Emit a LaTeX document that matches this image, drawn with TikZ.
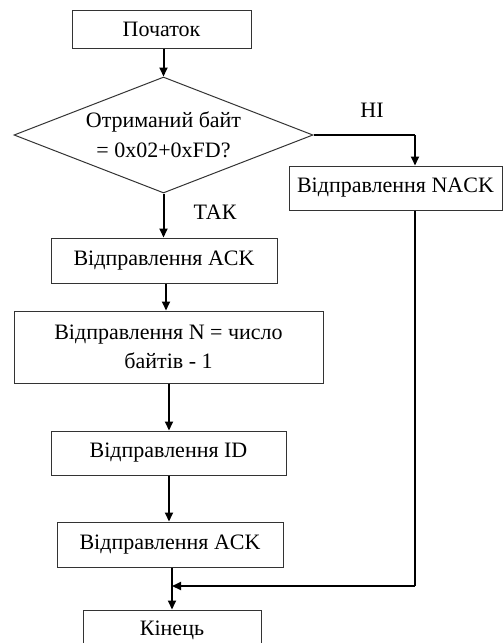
\documentclass[tikz,border=0pt]{standalone}
\usepackage{fontspec}
\setmainfont{Liberation Serif}
\usetikzlibrary{shapes.geometric,arrows.meta}
\begin{document}
\begin{tikzpicture}[x=1pt,y=-1pt,
  box/.style={draw=black!80,line width=1pt,rectangle,inner sep=0pt,align=center,
    font=\fontsize{22}{29}\selectfont},
  dia/.style={draw=black!80,line width=1pt,diamond,inner sep=0pt},
  txt/.style={align=center,inner sep=0pt,font=\fontsize{22}{30}\selectfont},
  lbl/.style={font=\fontsize{22}{24}\selectfont,inner sep=0pt},
  arr/.style={draw=black,line width=2pt,-{Triangle[length=9pt,width=8pt]}},
  ln/.style={draw=black,line width=1.3pt}]
\useasboundingbox (0,0) rectangle (503,643);
\node[box,minimum width=179,minimum height=38] (start) at (161.5,29) {Початок};
\node[dia,minimum width=299,minimum height=116] (dec) at (163.5,135) {};
\node[txt] (dectxt) at (dec.center) {Отриманий байт\\= 0x02+0xFD?};
\node[box,minimum width=213,minimum height=44] (nack) at (395.5,188) {Відправлення NACK};
\node[box,minimum width=226,minimum height=45] (ack1) at (164,260.5) {Відправлення ACK};
\node[box,minimum width=309,minimum height=72] (nbox) at (168.5,347) {Відправлення N = число\\байтів - 1};
\node[box,minimum width=235,minimum height=44] (id) at (168.5,453) {Відправлення ID};
\node[box,minimum width=226,minimum height=45] (ack2) at (170,544.5) {Відправлення ACK};
\node[box,minimum width=178,minimum height=40] (end) at (172,630) {Кінець};
\node[lbl] (no) at (372,110) {НІ};
\node[lbl] (yes) at (215,212) {ТАК};
\coordinate (nx) at (415,135);
\coordinate (join) at (172,586);
\draw[arr] (dec.north |- start.south) -- (dec.north);
\draw[ln] (dec.east) -- (nx);
\draw[arr] (nx) -- (nx |- nack.north);
\draw[arr] (dec.south) -- (dec.south |- ack1.north);
\draw[arr] (166,0 |- ack1.south) -- (166,0 |- nbox.north);
\draw[arr] (169,0 |- nbox.south) -- (169,0 |- id.north);
\draw[arr] (169,0 |- id.south) -- (169,0 |- ack2.north);
\draw[arr] (172,0 |- ack2.south) -- (end.north);
\draw[ln] (nx |- nack.south) -- (nx |- join);
\draw[arr] (nx |- join) -- (join);
\end{tikzpicture}
\end{document}
